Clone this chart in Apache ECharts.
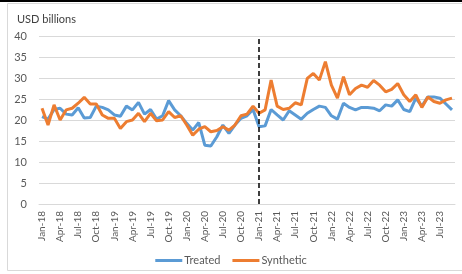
<!DOCTYPE html>
<html>
<head>
<meta charset="utf-8">
<script src="https://cdn.jsdelivr.net/npm/echarts@6/dist/echarts.min.js"></script>
<style>
  html, body { margin: 0; padding: 0; background: #fff; }
  #chart { width: 462px; height: 274px; }
</style>
</head>
<body>
<div id="chart"></div>
<script>
// monthly categories Jan-18 .. Sep-23
const monthNames = ['Jan', 'Feb', 'Mar', 'Apr', 'May', 'Jun', 'Jul', 'Aug', 'Sep', 'Oct', 'Nov', 'Dec'];
const years = ['18', '19', '20', '21', '22', '23'];
const lastMonthIndex = 8; // Sep-23

const months = [];
years.forEach((y, yi) => {
    monthNames.forEach((m, mi) => {
        if (yi === years.length - 1 && mi > lastMonthIndex) return;
        months.push(m + '-' + y);
    });
});

const treated = [
    20.8, 20.2, 22.5, 22.8, 21.4, 21.2, 22.9, 20.5, 20.6, 23.3, 23.0, 22.4,
    21.2, 20.9, 23.3, 22.4, 24.2, 21.4, 22.5, 20.2, 21.0, 24.6, 22.4, 21.0,
    19.2, 17.6, 19.4, 14.0, 13.8, 16.0, 18.8, 16.8, 18.8, 20.4, 21.0, 22.5,
    18.4, 18.6, 22.5, 21.2, 20.0, 22.2, 21.2, 20.2, 21.6, 22.5, 23.3, 23.0,
    21.0, 20.2, 24.0, 23.0, 22.4, 23.0, 23.0, 22.8, 22.2, 23.6, 23.3, 24.8,
    22.5, 22.0, 25.2, 23.3, 25.5, 25.5, 25.2, 23.8, 22.4
];

const synthetic = [
    22.8, 18.8, 23.6, 20.0, 22.4, 22.8, 24.0, 25.4, 23.8, 23.8, 21.2, 20.4,
    20.4, 18.0, 19.6, 20.0, 21.6, 19.6, 21.6, 19.8, 20.0, 22.0, 20.6, 21.0,
    18.8, 16.4, 17.8, 18.4, 17.2, 17.5, 18.4, 17.6, 18.8, 21.0, 21.4, 23.3,
    21.6, 22.4, 29.5, 23.3, 22.5, 22.8, 24.1, 23.6, 29.9, 31.1, 29.5, 33.9,
    28.3, 25.2, 30.3, 26.0, 27.5, 28.3, 27.8, 29.4, 28.3, 26.7, 27.3, 28.7,
    26.0, 24.4, 26.0, 23.0, 25.5, 24.4, 24.0, 24.8, 25.2
];

const treatmentStart = 'Jan-21';

const fontFamily = 'Lato, "Open Sans", sans-serif';
const textColor = '#595959';

const chart = echarts.init(document.getElementById('chart'));

const option = {
    animation: false,
    textStyle: { fontFamily: fontFamily },
    graphic: [
        {
            type: 'rect',
            shape: { x: 0, y: 0, width: 462, height: 2 },
            style: { fill: '#000' },
            silent: true
        },
        {
            type: 'rect',
            shape: { x: 7.5, y: 3.5, width: 470, height: 267 },
            style: { fill: 'none', stroke: '#d9d9d9', lineWidth: 1 },
            silent: true
        },
        {
            type: 'text',
            left: 17,
            top: 14,
            style: {
                text: 'USD billions',
                fill: '#404040',
                font: '11px ' + fontFamily
            }
        }
    ],
    grid: {
        left: 39,
        right: 7,
        top: 36,
        bottom: 70
    },
    legend: {
        bottom: 3,
        left: 'center',
        icon: 'rect',
        itemWidth: 27,
        itemHeight: 3,
        itemGap: 12,
        textStyle: { color: textColor, fontSize: 11, padding: [0, 0, 0, -3] },
        data: ['Treated', 'Synthetic']
    },
    xAxis: {
        type: 'category',
        data: months,
        boundaryGap: true,
        axisLine: { lineStyle: { color: '#d9d9d9' } },
        axisTick: { show: false },
        axisLabel: {
            interval: 2,
            rotate: 90,
            color: textColor,
            fontSize: 10,
            margin: 7
        },
        splitLine: { show: false }
    },
    yAxis: {
        type: 'value',
        min: 0,
        max: 40,
        interval: 5,
        axisLine: { show: false },
        axisTick: { show: false },
        axisLabel: { color: textColor, fontSize: 11, margin: 12 },
        splitLine: { lineStyle: { color: '#d9d9d9' } }
    },
    series: [
        {
            name: 'Treated',
            type: 'line',
            data: treated,
            showSymbol: false,
            lineStyle: { color: '#5B9BD5', width: 3 },
            itemStyle: { color: '#5B9BD5' },
            markLine: {
                silent: true,
                symbol: 'none',
                label: { show: false },
                lineStyle: { color: '#000', type: [5, 3], width: 1.5 },
                data: [{ xAxis: treatmentStart }]
            }
        },
        {
            name: 'Synthetic',
            type: 'line',
            data: synthetic,
            showSymbol: false,
            lineStyle: { color: '#ED7D31', width: 3 },
            itemStyle: { color: '#ED7D31' }
        }
    ]
};

chart.setOption(option);
</script>
</body>
</html>
